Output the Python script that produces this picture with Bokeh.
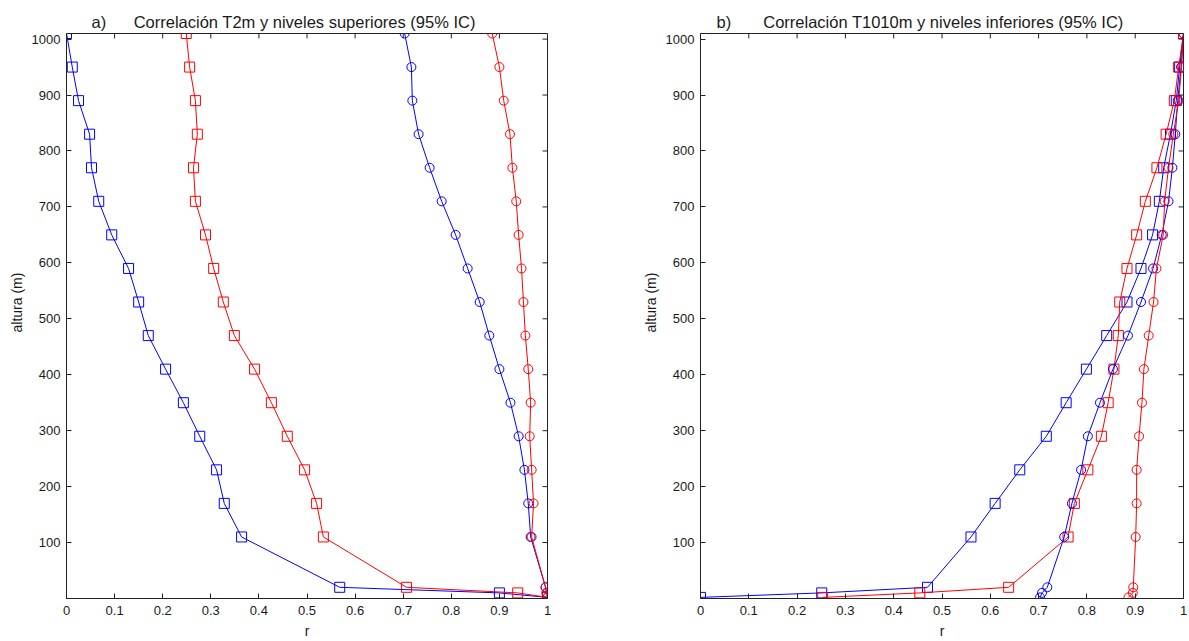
from bokeh.plotting import figure
from bokeh.layouts import row
from bokeh.models import Range1d, FixedTicker, Title
from bokeh.embed import file_html
from bokeh.resources import INLINE

# ---------------- data ----------------
levels = [1010, 950, 890, 830, 770, 710, 650, 590, 530, 470, 410, 350, 290, 230, 170, 110, 20, 10, 2]

# panel a) correlation T2m with upper levels
a_blue_sq = [0.000, 0.012, 0.025, 0.048, 0.052, 0.067, 0.094, 0.129, 0.150, 0.170, 0.206, 0.243, 0.277, 0.312, 0.328, 0.364, 0.568, 0.900, 1.000]
a_red_sq = [0.249, 0.256, 0.268, 0.272, 0.264, 0.268, 0.289, 0.306, 0.326, 0.349, 0.391, 0.426, 0.459, 0.495, 0.520, 0.534, 0.707, 0.938, 1.000]
a_blue_ci = [0.703, 0.717, 0.719, 0.732, 0.755, 0.780, 0.809, 0.834, 0.859, 0.879, 0.900, 0.923, 0.940, 0.952, 0.960, 0.965, 0.996, 0.998, 1.000]
a_red_ci = [0.885, 0.900, 0.909, 0.922, 0.927, 0.935, 0.940, 0.946, 0.950, 0.954, 0.960, 0.965, 0.963, 0.967, 0.971, 0.967, 0.996, 0.998, 1.000]

# panel b) correlation T1010m with lower levels
b_blue_sq = [1.000, 0.992, 0.985, 0.973, 0.959, 0.950, 0.936, 0.912, 0.883, 0.841, 0.799, 0.757, 0.716, 0.661, 0.610, 0.560, 0.470, 0.251, 0.000]
b_red_sq = [1.000, 0.990, 0.981, 0.964, 0.945, 0.921, 0.903, 0.883, 0.868, 0.865, 0.856, 0.844, 0.830, 0.802, 0.774, 0.761, 0.638, 0.454, 0.253]
b_blue_ci = [1.000, 0.995, 0.988, 0.983, 0.977, 0.969, 0.955, 0.937, 0.912, 0.885, 0.854, 0.827, 0.802, 0.788, 0.769, 0.753, 0.718, 0.707, 0.703]
b_red_ci = [1.000, 0.996, 0.990, 0.979, 0.969, 0.961, 0.958, 0.944, 0.938, 0.928, 0.918, 0.914, 0.908, 0.903, 0.903, 0.901, 0.896, 0.895, 0.886]

r_ticks = [0, 0.1, 0.2, 0.3, 0.4, 0.5, 0.6, 0.7, 0.8, 0.9, 1]
h_ticks = [100, 200, 300, 400, 500, 600, 700, 800, 900, 1000]

label_a = "a)"
label_b = "b)"
title_a = "Correlación T2m y niveles superiores (95% IC)"
title_b = "Correlación T1010m y niveles inferiores (95% IC)"
x_label = "r"
y_label = "altura (m)"

BLUE = "#0000ff"
RED = "#ff0000"
FONT = "Liberation Sans"
TXT = "#1a1a1a"
AX = "#222222"
NBSP = "\u00a0"

Y_MIN, Y_MAX = 0, 1010
X_MIN, X_MAX = 0, 1
H = 641
TOP, BOTTOM = 33, 41
TICK_PX = 5


def panel(series, width, bl, br, letter, gap, title, offset):
    frame_w = width - bl - br
    frame_h = H - TOP - BOTTOM
    p = figure(width=width, height=H, x_range=Range1d(X_MIN, X_MAX), y_range=Range1d(Y_MIN, Y_MAX),
               output_backend="svg", toolbar_location=None,
               min_border_left=bl, min_border_right=br, min_border_top=TOP, min_border_bottom=BOTTOM)
    p.grid.visible = False
    p.outline_line_color = AX
    p.background_fill_color = "white"
    p.border_fill_color = "white"

    for vals, color, marker, size in series:
        p.line(vals, levels, line_color=color, line_width=1)
        p.scatter(vals, levels, marker=marker, size=size, line_color=color,
                  fill_color=None, line_width=1)

    # inward ticks on the top and right edges of the box (Matlab style)
    ty = TICK_PX * (Y_MAX - Y_MIN) / frame_h
    tx = TICK_PX * (X_MAX - X_MIN) / frame_w
    p.segment(x0=r_ticks, x1=r_ticks, y0=[Y_MAX] * len(r_ticks), y1=[Y_MAX - ty] * len(r_ticks),
              line_color=AX, line_width=1)
    p.segment(x0=[X_MAX] * len(h_ticks), x1=[X_MAX - tx] * len(h_ticks), y0=h_ticks, y1=h_ticks,
              line_color=AX, line_width=1)

    xa = p.xaxis[0]
    ya = p.yaxis[0]
    xa.ticker = FixedTicker(ticks=r_ticks)
    ya.ticker = FixedTicker(ticks=h_ticks)
    for ax in (xa, ya):
        ax.axis_line_color = AX
        ax.major_tick_line_color = AX
        ax.major_tick_in = TICK_PX
        ax.major_tick_out = 0
        ax.minor_tick_line_color = None
        ax.major_label_text_font = FONT
        ax.major_label_text_color = TXT
        ax.major_label_text_font_size = "13px"
        ax.axis_label_text_font = FONT
        ax.axis_label_text_font_style = "normal"
        ax.axis_label_text_color = TXT
        ax.axis_label_text_font_size = "14px"
    xa.axis_label = x_label
    xa.major_label_standoff = 7
    xa.axis_label_standoff = 5
    ya.major_label_standoff = 6

    # y label as a rotated side title so it can sit slightly above centre, as in the reference
    yt = Title(text=y_label, align="left", offset=266, text_font=FONT, text_font_size="14px",
               text_font_style="normal", text_color=TXT, standoff=8)
    p.add_layout(yt, "left")

    t = Title(text=letter + NBSP * gap + title, align="left", offset=offset,
              text_font=FONT, text_font_size="16.5px", text_font_style="normal",
              text_color=TXT, standoff=6)
    p.add_layout(t, "above")
    return p


pa = panel([(a_blue_sq, BLUE, "square", 10), (a_red_sq, RED, "square", 10),
            (a_blue_ci, BLUE, "circle", 9), (a_red_ci, RED, "circle", 9)],
           610, 66, 63, label_a, 6, title_a, 25)
pb = panel([(b_blue_sq, BLUE, "square", 10), (b_red_sq, RED, "square", 10),
            (b_blue_ci, BLUE, "circle", 9), (b_red_ci, RED, "circle", 9)],
           579, 90, 6, label_b, 7, title_b, 16)

layout = row(pa, pb)
open("out.html", "w").write(file_html(layout, INLINE))
